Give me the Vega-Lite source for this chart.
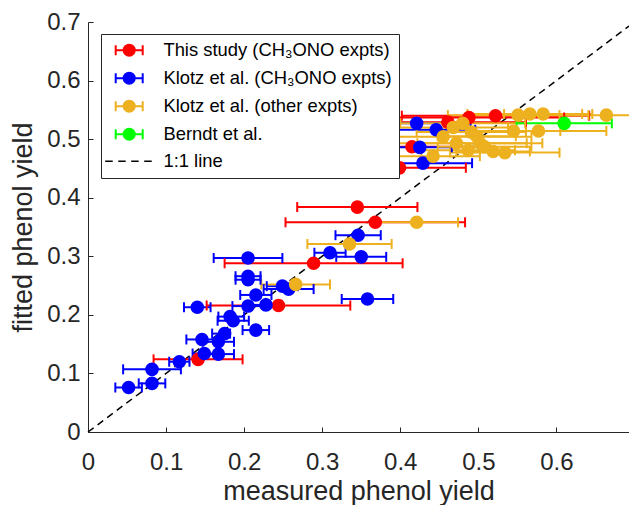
{
  "$schema": "https://vega.github.io/schema/vega-lite/v6.json",
  "width": 541,
  "height": 410,
  "autosize": {"type": "none"},
  "padding": {"left": 88, "top": 22, "right": 0, "bottom": 73},
  "background": "white",
  "config": {
    "view": {"stroke": null},
    "font": "Liberation Sans",
    "axis": {
      "domainColor": "#262626", "domainWidth": 1, "tickColor": "#262626", "tickSize": -5, "tickWidth": 1,
      "labelFont": "Liberation Sans", "labelFontSize": 24, "labelColor": "#262626",
      "titleFont": "Liberation Sans", "titleFontSize": 27, "titleFontWeight": "normal", "titleColor": "#262626",
      "grid": false, "labelFlush": false, "labelOverlap": false
    }
  },
  "datasets": {
    "diag": [{"x": 0, "y": 0, "x2": 0.693, "y2": 0.693}],
    "pts": [
      {"s": "This study (CH₃ONO expts)", "x": 0.141, "y": 0.124, "lo": 0.084, "hi": 0.198},
      {"s": "This study (CH₃ONO expts)", "x": 0.244, "y": 0.216, "lo": 0.152, "hi": 0.336},
      {"s": "This study (CH₃ONO expts)", "x": 0.289, "y": 0.288, "lo": 0.175, "hi": 0.403},
      {"s": "This study (CH₃ONO expts)", "x": 0.345, "y": 0.384, "lo": 0.268, "hi": 0.422},
      {"s": "This study (CH₃ONO expts)", "x": 0.368, "y": 0.358, "lo": 0.253, "hi": 0.483},
      {"s": "This study (CH₃ONO expts)", "x": 0.399, "y": 0.451, "lo": 0.314, "hi": 0.484},
      {"s": "This study (CH₃ONO expts)", "x": 0.415, "y": 0.487, "lo": 0.327, "hi": 0.503},
      {"s": "This study (CH₃ONO expts)", "x": 0.461, "y": 0.529, "lo": 0.361, "hi": 0.561},
      {"s": "This study (CH₃ONO expts)", "x": 0.488, "y": 0.537, "lo": 0.366, "hi": 0.610},
      {"s": "This study (CH₃ONO expts)", "x": 0.522, "y": 0.540, "lo": 0.402, "hi": 0.642},
      {"s": "Klotz et al. (CH₃ONO expts)", "x": 0.052, "y": 0.076, "lo": 0.035, "hi": 0.069},
      {"s": "Klotz et al. (CH₃ONO expts)", "x": 0.082, "y": 0.083, "lo": 0.065, "hi": 0.099},
      {"s": "Klotz et al. (CH₃ONO expts)", "x": 0.082, "y": 0.107, "lo": 0.045, "hi": 0.119},
      {"s": "Klotz et al. (CH₃ONO expts)", "x": 0.117, "y": 0.120, "lo": 0.104, "hi": 0.130},
      {"s": "Klotz et al. (CH₃ONO expts)", "x": 0.149, "y": 0.134, "lo": 0.134, "hi": 0.164},
      {"s": "Klotz et al. (CH₃ONO expts)", "x": 0.167, "y": 0.133, "lo": 0.147, "hi": 0.187},
      {"s": "Klotz et al. (CH₃ONO expts)", "x": 0.146, "y": 0.158, "lo": 0.126, "hi": 0.166},
      {"s": "Klotz et al. (CH₃ONO expts)", "x": 0.167, "y": 0.154, "lo": 0.147, "hi": 0.187},
      {"s": "Klotz et al. (CH₃ONO expts)", "x": 0.175, "y": 0.168, "lo": 0.159, "hi": 0.182},
      {"s": "Klotz et al. (CH₃ONO expts)", "x": 0.215, "y": 0.174, "lo": 0.198, "hi": 0.232},
      {"s": "Klotz et al. (CH₃ONO expts)", "x": 0.182, "y": 0.197, "lo": 0.167, "hi": 0.200},
      {"s": "Klotz et al. (CH₃ONO expts)", "x": 0.186, "y": 0.190, "lo": 0.166, "hi": 0.206},
      {"s": "Klotz et al. (CH₃ONO expts)", "x": 0.140, "y": 0.213, "lo": 0.123, "hi": 0.157},
      {"s": "Klotz et al. (CH₃ONO expts)", "x": 0.205, "y": 0.215, "lo": 0.185, "hi": 0.225},
      {"s": "Klotz et al. (CH₃ONO expts)", "x": 0.228, "y": 0.217, "lo": 0.208, "hi": 0.248},
      {"s": "Klotz et al. (CH₃ONO expts)", "x": 0.215, "y": 0.234, "lo": 0.195, "hi": 0.235},
      {"s": "Klotz et al. (CH₃ONO expts)", "x": 0.205, "y": 0.260, "lo": 0.189, "hi": 0.221},
      {"s": "Klotz et al. (CH₃ONO expts)", "x": 0.205, "y": 0.266, "lo": 0.189, "hi": 0.221},
      {"s": "Klotz et al. (CH₃ONO expts)", "x": 0.249, "y": 0.249, "lo": 0.229, "hi": 0.269},
      {"s": "Klotz et al. (CH₃ONO expts)", "x": 0.257, "y": 0.244, "lo": 0.225, "hi": 0.289},
      {"s": "Klotz et al. (CH₃ONO expts)", "x": 0.205, "y": 0.297, "lo": 0.161, "hi": 0.249},
      {"s": "Klotz et al. (CH₃ONO expts)", "x": 0.310, "y": 0.306, "lo": 0.290, "hi": 0.330},
      {"s": "Klotz et al. (CH₃ONO expts)", "x": 0.350, "y": 0.299, "lo": 0.318, "hi": 0.382},
      {"s": "Klotz et al. (CH₃ONO expts)", "x": 0.346, "y": 0.336, "lo": 0.317, "hi": 0.375},
      {"s": "Klotz et al. (CH₃ONO expts)", "x": 0.358, "y": 0.227, "lo": 0.325, "hi": 0.391},
      {"s": "Klotz et al. (CH₃ONO expts)", "x": 0.429, "y": 0.459, "lo": 0.366, "hi": 0.492},
      {"s": "Klotz et al. (CH₃ONO expts)", "x": 0.425, "y": 0.486, "lo": 0.384, "hi": 0.466},
      {"s": "Klotz et al. (CH₃ONO expts)", "x": 0.421, "y": 0.527, "lo": 0.352, "hi": 0.490},
      {"s": "Klotz et al. (CH₃ONO expts)", "x": 0.446, "y": 0.516, "lo": 0.396, "hi": 0.496},
      {"s": "Klotz et al. (other expts)", "x": 0.266, "y": 0.252, "lo": 0.222, "hi": 0.310},
      {"s": "Klotz et al. (other expts)", "x": 0.335, "y": 0.321, "lo": 0.281, "hi": 0.389},
      {"s": "Klotz et al. (other expts)", "x": 0.421, "y": 0.358, "lo": 0.368, "hi": 0.474},
      {"s": "Klotz et al. (other expts)", "x": 0.442, "y": 0.471, "lo": 0.382, "hi": 0.502},
      {"s": "Klotz et al. (other expts)", "x": 0.455, "y": 0.504, "lo": 0.329, "hi": 0.568},
      {"s": "Klotz et al. (other expts)", "x": 0.468, "y": 0.520, "lo": 0.398, "hi": 0.538},
      {"s": "Klotz et al. (other expts)", "x": 0.480, "y": 0.527, "lo": 0.400, "hi": 0.560},
      {"s": "Klotz et al. (other expts)", "x": 0.491, "y": 0.512, "lo": 0.421, "hi": 0.561},
      {"s": "Klotz et al. (other expts)", "x": 0.472, "y": 0.493, "lo": 0.382, "hi": 0.562},
      {"s": "Klotz et al. (other expts)", "x": 0.487, "y": 0.481, "lo": 0.427, "hi": 0.547},
      {"s": "Klotz et al. (other expts)", "x": 0.502, "y": 0.493, "lo": 0.422, "hi": 0.582},
      {"s": "Klotz et al. (other expts)", "x": 0.508, "y": 0.487, "lo": 0.448, "hi": 0.568},
      {"s": "Klotz et al. (other expts)", "x": 0.519, "y": 0.479, "lo": 0.472, "hi": 0.566},
      {"s": "Klotz et al. (other expts)", "x": 0.534, "y": 0.477, "lo": 0.464, "hi": 0.604},
      {"s": "Klotz et al. (other expts)", "x": 0.545, "y": 0.514, "lo": 0.485, "hi": 0.605},
      {"s": "Klotz et al. (other expts)", "x": 0.551, "y": 0.541, "lo": 0.461, "hi": 0.641},
      {"s": "Klotz et al. (other expts)", "x": 0.566, "y": 0.543, "lo": 0.486, "hi": 0.646},
      {"s": "Klotz et al. (other expts)", "x": 0.583, "y": 0.543, "lo": 0.533, "hi": 0.633},
      {"s": "Klotz et al. (other expts)", "x": 0.577, "y": 0.514, "lo": 0.490, "hi": 0.664},
      {"s": "Klotz et al. (other expts)", "x": 0.664, "y": 0.541, "lo": 0.604, "hi": 0.724},
      {"s": "Klotz et al. (other expts)", "x": 0.498, "y": 0.505, "lo": 0.448, "hi": 0.548},
      {"s": "Berndt et al.", "x": 0.610, "y": 0.527, "lo": 0.549, "hi": 0.671}
    ]
  },
  "resolve": {"legend": {"color": "independent"}},
  "layer": [
    {
      "data": {"name": "diag"},
      "mark": {"type": "rule", "color": "black", "strokeWidth": 1.5, "strokeDash": [7, 5]},
      "encoding": {
        "x": {"field": "x", "type": "quantitative",
              "scale": {"domain": [0, 0.693], "nice": false},
              "axis": {"title": "measured phenol yield", "values": [0, 0.1, 0.2, 0.3, 0.4, 0.5, 0.6], "format": ".1~f", "labelPadding": 23, "titlePadding": 4}},
        "y": {"field": "y", "type": "quantitative",
              "scale": {"domain": [0, 0.7], "nice": false},
              "axis": {"title": "fitted phenol yield", "values": [0, 0.1, 0.2, 0.3, 0.4, 0.5, 0.6, 0.7], "format": ".1~f", "labelPadding": 13, "titlePadding": 9}},
        "x2": {"field": "x2"},
        "y2": {"field": "y2"}
      }
    },
    {
      "data": {"name": "pts"},
      "mark": {"type": "rule", "strokeWidth": 2, "clip": true},
      "encoding": {
        "x": {"field": "lo", "type": "quantitative"},
        "x2": {"field": "hi"},
        "y": {"field": "y", "type": "quantitative"},
        "color": {"field": "s", "type": "nominal", "legend": null}
      }
    },
    {
      "data": {"name": "pts"},
      "mark": {"type": "point", "shape": "M0,-1L0,1", "size": 100, "filled": false, "strokeWidth": 2, "opacity": 1, "clip": true},
      "encoding": {
        "x": {"field": "lo", "type": "quantitative"},
        "y": {"field": "y", "type": "quantitative"},
        "color": {"field": "s", "type": "nominal", "legend": null}
      }
    },
    {
      "data": {"name": "pts"},
      "mark": {"type": "point", "shape": "M0,-1L0,1", "size": 100, "filled": false, "strokeWidth": 2, "opacity": 1, "clip": true},
      "encoding": {
        "x": {"field": "hi", "type": "quantitative"},
        "y": {"field": "y", "type": "quantitative"},
        "color": {"field": "s", "type": "nominal", "legend": null}
      }
    },
    {
      "data": {"name": "pts"},
      "mark": {"type": "point", "shape": "circle", "size": 185, "filled": true, "opacity": 1, "clip": true},
      "encoding": {
        "x": {"field": "x", "type": "quantitative"},
        "y": {"field": "y", "type": "quantitative"},
        "color": {
          "field": "s", "type": "nominal",
          "scale": {
            "domain": ["This study (CH₃ONO expts)", "Klotz et al. (CH₃ONO expts)", "Klotz et al. (other expts)", "Berndt et al.", "1:1 line"],
            "range": ["#ff0000", "#0000ff", "#EDB120", "#00ff00", "#000000"]
          },
          "legend": {
            "title": null, "orient": "none", "legendX": 13, "legendY": 12,
            "padding": 7, "symbolOffset": 12, "labelOffset": 25, "rowPadding": 8,
            "labelFont": "Liberation Sans", "labelFontSize": 18.4, "labelColor": "black", "labelLimit": 400,
            "strokeColor": "#262626", "fillColor": "white", "symbolSize": 729,
            "encoding": {
              "symbols": {
                "shape": {"value": {"expr": "datum.value === '1:1 line' ? 'M-1.78,0H-1.22M-0.81,0H-0.26M0.15,0H0.7M1.11,0H1.67' : 'M-1,0H1M-1,-0.37V0.37M1,-0.37V0.37M0.41,0A0.41,0.41,0,1,1,-0.41,0A0.41,0.41,0,1,1,0.41,0Z'"}},
                "stroke": {"value": {"expr": "scale('color', datum.value)"}},
                "strokeWidth": {"value": {"expr": "datum.value === '1:1 line' ? 1.5 : 2"}},
                "opacity": {"value": 1}
              }
            }
          }
        }
      }
    }
  ]
}
